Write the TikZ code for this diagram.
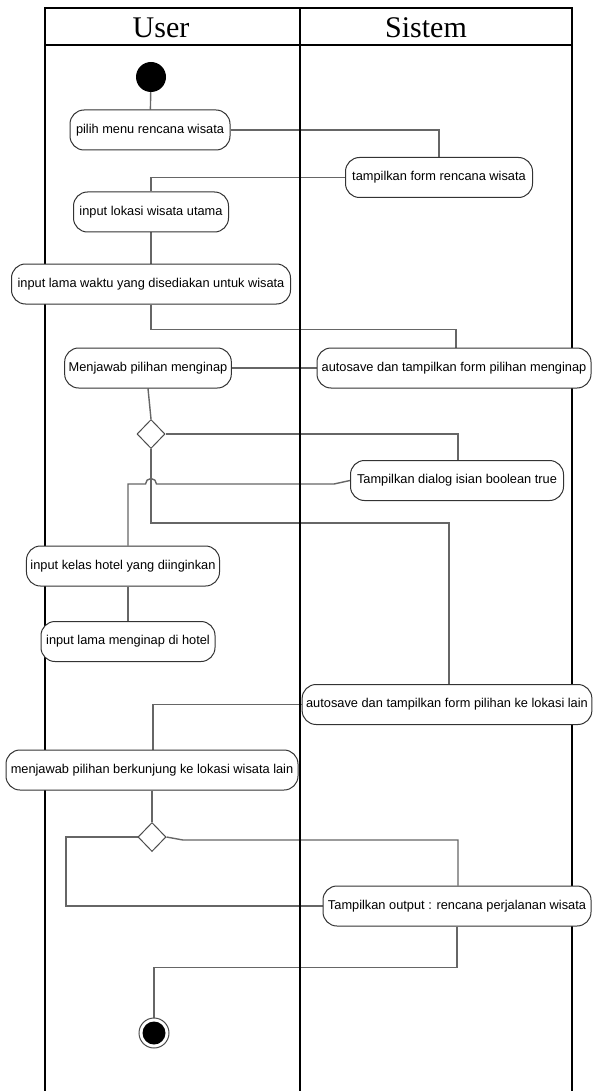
\documentclass[tikz,border=0pt]{standalone}
\usepackage{fontspec}
\setmainfont{Liberation Sans}
\newfontfamily\headfont{Liberation Serif}
\usetikzlibrary{shapes.geometric,calc}
\pgfdeclarelayer{background}
\pgfsetlayers{background,main}

\tikzset{
  lane/.style={line width=2pt, black},
  head/.style={font=\headfont\fontsize{30}{32}\selectfont, inner sep=0pt},
  act/.style={draw=black!80, line width=1pt, rounded corners=14pt,
    minimum height=40pt, inner xsep=4pt, inner ysep=0pt,
    font=\fontsize{12.8}{14}\selectfont, fill=white},
  flow/.style={draw=black!60, line width=1.4pt},
  decision/.style={diamond, draw=black!70, line width=1pt, fill=white,
    minimum width=28pt, minimum height=29pt, inner sep=0pt},
  startnode/.style={circle, fill=black, minimum size=30pt, inner sep=0pt},
  endnode/.style={circle, draw=black!70, line width=1pt, fill=white,
    minimum size=30pt, inner sep=0pt,
    path picture={\fill[black] (path picture bounding box.center) circle (11.5pt);}}
}

\begin{document}
\begin{tikzpicture}[x=1pt,y=-1pt]
\useasboundingbox (0,0) rectangle (592,1091);

% swimlane frame
\draw[lane] (45,1091) -- (45,8) -- (572,8) -- (572,1091);
\draw[lane] (300,8) -- (300,1091);
\draw[lane] (45,45) -- (572,45);
\node[head] (huser) at (161,28) {User};
\node[head] (hsys) at (426,28) {Sistem};

% activities
\node[startnode] (start) at (151,77) {};
\node[act, minimum width=160pt] (n1) at (150,130) {pilih menu rencana wisata};
\node[act, minimum width=187pt] (n2) at (439,177.5) {tampilkan form rencana wisata};
\node[act, minimum width=155pt] (n3) at (151,212) {input lokasi wisata utama};
\node[act, minimum width=279pt] (n4) at (151,284) {input lama waktu yang disediakan untuk wisata};
\node[act, minimum width=166pt] (n5) at (148,368) {Menjawab pilihan menginap};
\node[act, minimum width=274pt] (n6) at (454,368) {autosave dan tampilkan form pilihan menginap};
\node[decision] (d1) at (151,434) {};
\node[act, minimum width=213pt] (n7) at (457,480.5) {Tampilkan dialog isian boolean true};
\node[act, minimum width=188pt] (n8) at (123,566) {input kelas hotel yang diinginkan};
\node[act, minimum width=174pt] (n9) at (128,641.5) {input lama menginap di hotel};
\node[act, minimum width=288pt] (n10) at (447,704.5) {autosave dan tampilkan form pilihan ke lokasi lain};
\node[act, minimum width=292pt] (n11) at (152,770) {menjawab pilihan berkunjung ke lokasi wisata lain};
\node[decision] (d2) at (152,837) {};
\node[act, minimum width=268pt] (n12) at (457,906) {Tampilkan output : rencana perjalanan wisata};
\node[endnode] (stop) at (154,1033) {};

% bend points of the connectors
\coordinate (k7) at (334,484);
\coordinate (hopR) at (156.5,484);
\coordinate (k8) at (128,484);
\coordinate (k2) at (183,840);
\coordinate (loopL) at (66,837);

% control flows (behind the frame and nodes)
\begin{pgfonlayer}{background}
\draw[flow] (start) -- (n1);
\draw[flow] (n1.east) -| (n2.north);
\draw[flow] (n2.west) -| (n3.north);
\draw[flow] (n3) -- (n4);
\draw[flow] (n4.south) -- ++(0,25) -| ($(n6.north)+(2,0)$);
\draw[flow] (n5.east) -- (n6.west);
\draw[flow] (n5.south) -- (d1.north);
\draw[flow] (d1.east) -| ($(n7.north)+(1,0)$);
\draw[flow] (n7.west) -- (k7) -- (hopR) arc[start angle=0, end angle=180, radius=5.5pt] -- (k8) -- (n8.north -| k8);
\draw[flow] (d1.south) -- ($(d1.south)+(0,74)$) -| ($(n10.north)+(2,0)$);
\draw[flow] (n8.south -| n9.north) -- (n9.north);
\draw[flow] (n10.west) -| ($(n11.north)+(1,0)$);
\draw[flow] (n11.south) -- (d2.north);
\draw[flow] (d2.west) -- (loopL) |- (n12.west);
\draw[flow] (d2.east) -- (k2) -| ($(n12.north)+(1,0)$);
\draw[flow] (n12.south) -- ++(0,41) -| (stop.north);
\end{pgfonlayer}
\end{tikzpicture}
\end{document}
